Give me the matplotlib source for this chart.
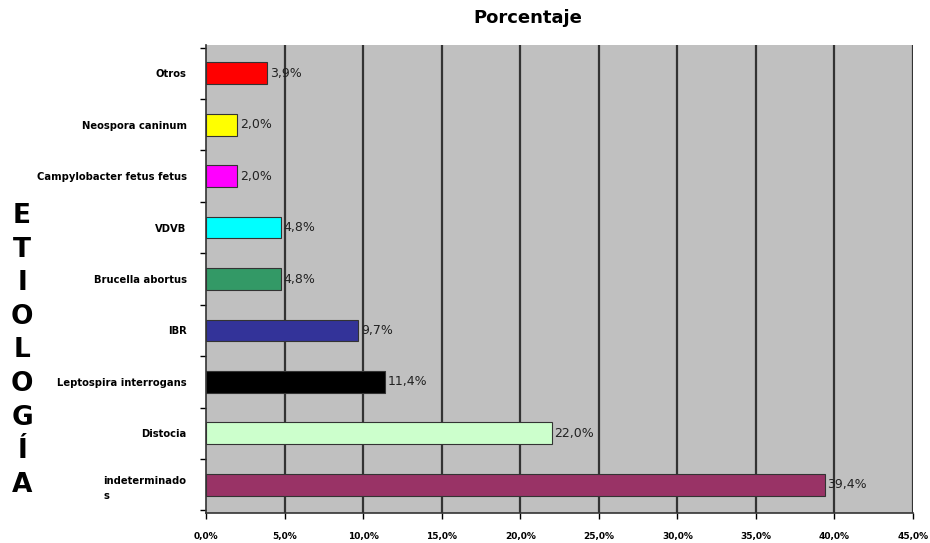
import matplotlib.pyplot as plt
import numpy as np

categories = ['Otros', 'Neospora caninum', 'Campylobacter fetus fetus', 'VDVB',
              'Brucella abortus', 'IBR', 'Leptospira interrogans', 'Distocia',
              'indeterminado\ns']
values = [3.9, 2.0, 2.0, 4.8, 4.8, 9.7, 11.4, 22.0, 39.4]
colors = ['#FF0000', '#FFFF00', '#FF00FF', '#00FFFF', '#339966',
          '#333399', '#000000', '#CCFFCC', '#993366']
xticks = np.arange(0, 50, 5)

plt.rcParams['font.family'] = ['DejaVu Sans']

fig = plt.figure(figsize=(9.3, 5.43), dpi=100)
ax = fig.add_axes([206 / 930, 1 - 513 / 543, 707 / 930, 468 / 543])
ax.set_facecolor('#C0C0C0')

y = np.arange(len(categories))
bars = ax.barh(y, values, height=0.42, color=colors, edgecolor='#333333', linewidth=0.8, zorder=3)
ax.set_ylim(len(categories) - 0.45, -0.55)
ax.set_xlim(0, 45)

for v in xticks[1:]:
    ax.axvline(v, color='#333333', linewidth=1.6, zorder=1)

for bar, v in zip(bars, values):
    ax.text(bar.get_width() + 0.15, bar.get_y() + bar.get_height() / 2,
            f'{v:.1f}%'.replace('.', ','), va='center', ha='left', fontsize=9,
            color='#222222', zorder=4)

ax.set_xticks(xticks)
ax.set_xticklabels([f'{v:.1f}%'.replace('.', ',') for v in xticks],
                   fontsize=6.5, fontweight='bold')
ax.set_yticks(y)
ax.set_yticklabels(categories, fontsize=7.2, fontweight='bold')
for lab in ax.get_yticklabels():
    lab.set_multialignment('left')
    lab.set_linespacing(1.6)
ax.tick_params(axis='y', length=0, pad=14)
ax.set_yticks(np.arange(-0.5, len(categories), 1), minor=True)
ax.tick_params(axis='y', which='minor', length=4, width=1, direction='out')
ax.tick_params(axis='x', length=4, width=1, pad=10)

for s in ['top', 'right']:
    ax.spines[s].set_visible(False)
ax.spines['left'].set_color('#333333')
ax.spines['left'].set_linewidth(1.2)
ax.spines['bottom'].set_color('#333333')
ax.spines['bottom'].set_linewidth(1.2)

fig.text(528 / 930, 1 - 18 / 543, 'Porcentaje', ha='center', va='center',
         fontsize=13, fontweight='bold')

letters = 'ETIOLOGÍA'
for i, ch in enumerate(letters):
    fig.text(22 / 930, 1 - (216 + i * 33.6) / 543, ch, ha='center', va='center',
             fontsize=19, fontweight='bold')

fig.savefig('out.png', dpi=100)
